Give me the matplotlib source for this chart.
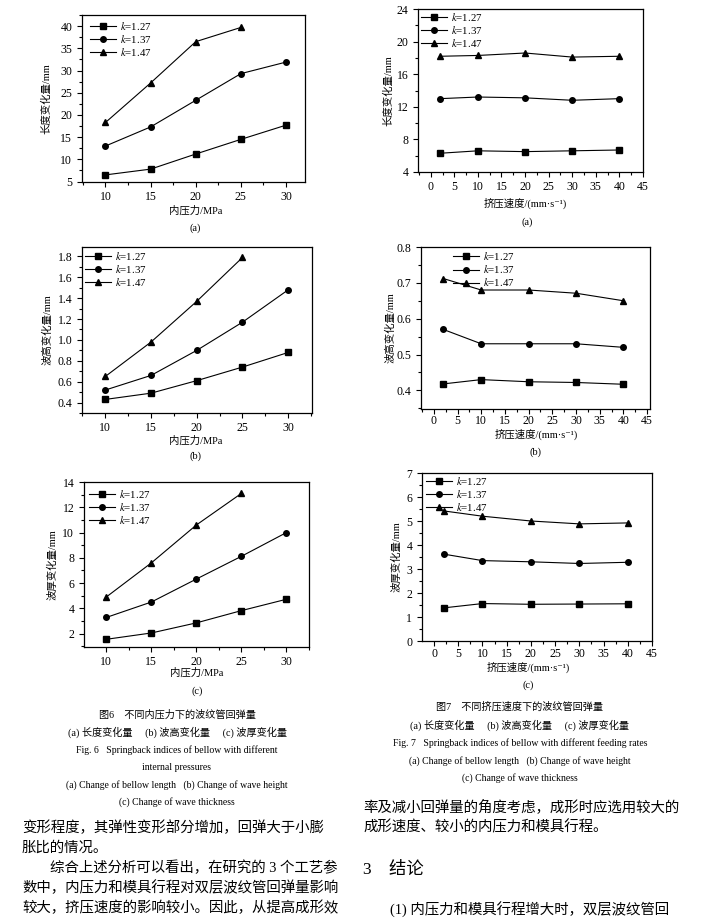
import matplotlib
matplotlib.use("Agg")
import matplotlib.pyplot as plt
from matplotlib.ticker import MultipleLocator

plt.rcParams['font.family'] = ['Liberation Serif', 'Noto Sans CJK SC', 'DejaVu Sans']
plt.rcParams['mathtext.fontset'] = 'stix'

W, H = 703, 923

# ---- data ----
k_labels = ["$k$=1.27", "$k$=1.37", "$k$=1.47"]
markers = ["s", "o", "^"]

pressure = [10, 15, 20, 25, 30]
speed = [2, 10, 20, 30, 40]

# Fig. 6 - internal pressure
len_p_127 = [6.5, 7.8, 11.2, 14.5, 17.7]
len_p_137 = [13.0, 17.3, 23.3, 29.3, 31.9]
len_p_147 = [18.3, 27.2, 36.5, 39.7]

hgt_p_127 = [0.43, 0.49, 0.61, 0.74, 0.88]
hgt_p_137 = [0.52, 0.66, 0.90, 1.17, 1.48]
hgt_p_147 = [0.65, 0.98, 1.37, 1.79]

thk_p_127 = [1.55, 2.05, 2.85, 3.82, 4.72]
thk_p_137 = [3.28, 4.50, 6.32, 8.12, 10.0]
thk_p_147 = [4.90, 7.60, 10.6, 13.1]

# Fig. 7 - feeding rate
len_s_127 = [6.3, 6.6, 6.5, 6.6, 6.7]
len_s_137 = [13.0, 13.2, 13.1, 12.8, 13.0]
len_s_147 = [18.2, 18.3, 18.6, 18.1, 18.2]

hgt_s_127 = [0.418, 0.430, 0.424, 0.422, 0.417]
hgt_s_137 = [0.570, 0.530, 0.530, 0.530, 0.520]
hgt_s_147 = [0.712, 0.680, 0.680, 0.671, 0.650]

thk_s_127 = [1.38, 1.56, 1.53, 1.54, 1.55]
thk_s_137 = [3.62, 3.35, 3.30, 3.23, 3.28]
thk_s_147 = [5.42, 5.20, 5.00, 4.88, 4.92]

fig = plt.figure(figsize=(W / 100, H / 100), dpi=100)


def add_ax(l, t, r, b):
    return fig.add_axes([l / W, 1 - b / H, (r - l) / W, (b - t) / H])


def ftext(x, y, s, size=7.5, ha='center', **kw):
    fig.text(x / W, 1 - y / H, s, ha=ha, va='center', fontsize=size, **kw)


def panel(box, xs, series, xlim, ylim, xmaj, ymaj, leg_xy, ylabel, yl_x, xpad=3.0):
    ax = add_ax(*box)
    for ys, m, lab in zip(series, markers, k_labels):
        ax.plot(xs[:len(ys)], ys, color='black', lw=0.8, marker=m, ms=4, label=lab)
    ax.set_xlim(*xlim)
    ax.set_ylim(*ylim)
    ax.xaxis.set_major_locator(MultipleLocator(xmaj))
    ax.xaxis.set_minor_locator(MultipleLocator(xmaj / 2))
    ax.yaxis.set_major_locator(MultipleLocator(ymaj))
    ax.yaxis.set_minor_locator(MultipleLocator(ymaj / 2))
    ax.tick_params(which='both', direction='out', top=False, right=False,
                   labelsize=8.5, width=0.8)
    ax.tick_params(which='major', length=3.5)
    ax.tick_params(which='minor', length=2)
    ax.tick_params(axis='x', pad=xpad)
    for sp in ax.spines.values():
        sp.set_linewidth(0.9)
    ax.legend(loc='upper left', bbox_to_anchor=leg_xy, frameon=False, fontsize=7.8,
              borderpad=0, borderaxespad=0, labelspacing=0.1, handlelength=2.4,
              handletextpad=0.4)
    cy = (box[1] + box[3]) / 2
    ftext(yl_x, cy, ylabel, rotation=90)
    return ax


xl_p = "内压力/MPa"
xl_s = "挤压速度/(mm·s⁻¹)"

# left column: internal pressure
panel((82, 15, 305, 182), pressure, [len_p_127, len_p_137, len_p_147],
      (7.4, 32.1), (4.9, 42.5), 5, 5, (0.036, 0.97), "长度变化量/mm", 46)
ftext(196, 211, xl_p)
ftext(195, 228, "(a)")

panel((82, 247, 312, 413), pressure, [hgt_p_127, hgt_p_137, hgt_p_147],
      (7.45, 32.6), (0.3, 1.89), 5, 0.2, (0.013, 0.982), "波高变化量/mm", 48)
ftext(196, 441, xl_p)
ftext(196, 456, "(b)")

panel((84, 482, 309, 647), pressure, [thk_p_127, thk_p_137, thk_p_147],
      (7.52, 32.5), (0.94, 14), 5, 2, (0.022, 0.964), "波厚变化量/mm", 52)
ftext(197, 673, xl_p)
ftext(197, 691, "(c)")

# right column: feeding rate
panel((418, 9, 643, 172), speed, [len_s_127, len_s_137, len_s_147],
      (-2.7, 45), (4, 24), 5, 4, (0.013, 0.988), "长度变化量/mm", 388)
ftext(525, 203, xl_s)
ftext(527, 222, "(a)")

panel((421, 247, 650, 409), speed, [hgt_s_127, hgt_s_137, hgt_s_147],
      (-2.7, 45.6), (0.348, 0.8), 5, 0.1, (0.14, 0.98), "波高变化量/mm", 391,
      xpad=0.8)
ftext(536, 434, xl_s)
ftext(536, 452, "(b)")

panel((422, 473, 652, 641), speed, [thk_s_127, thk_s_137, thk_s_147],
      (-2.48, 45), (0, 7), 5, 1, (0.017, 0.988), "波厚变化量/mm", 396,
      xpad=1.8)
ftext(528, 667, xl_s)
ftext(528, 685, "(c)")

# captions
cap = 7.3
ftext(177, 715, "图6　不同内压力下的波纹管回弹量", cap)
ftext(177, 732, "(a) 长度变化量　 (b) 波高变化量　 (c) 波厚变化量", cap)
ftext(177, 750, "Fig. 6   Springback indices of bellow with different", 7)
ftext(177, 767, "internal pressures", 7)
ftext(177, 785, "(a) Change of bellow length   (b) Change of wave height", 7)
ftext(177, 802, "(c) Change of wave thickness", 7)

ftext(520, 707, "图7　不同挤压速度下的波纹管回弹量", cap)
ftext(520, 725, "(a) 长度变化量　 (b) 波高变化量　 (c) 波厚变化量", cap)
ftext(520, 743, "Fig. 7   Springback indices of bellow with different feeding rates", 7)
ftext(520, 761, "(a) Change of bellow length   (b) Change of wave height", 7)
ftext(520, 778, "(c) Change of wave thickness", 7)

# body text
body = 10.4
ftext(22, 828, "变形程度，其弹性变形部分增加，回弹大于小膨", body, ha='left')
ftext(22, 848, "胀比的情况。", body, ha='left')
ftext(50, 868, "综合上述分析可以看出，在研究的 3 个工艺参", body, ha='left')
ftext(22, 888, "数中，内压力和模具行程对双层波纹管回弹量影响", body, ha='left')
ftext(22, 908, "较大，挤压速度的影响较小。因此，从提高成形效", body, ha='left')

ftext(363, 807, "率及减小回弹量的角度考虑，成形时应选用较大的", body, ha='left')
ftext(363, 827, "成形速度、较小的内压力和模具行程。", body, ha='left')
ftext(363, 870, "3　结论", 12.5, ha='left')
ftext(390, 910, "(1) 内压力和模具行程增大时，双层波纹管回", body, ha='left')

fig.savefig("out.png", dpi=100)
